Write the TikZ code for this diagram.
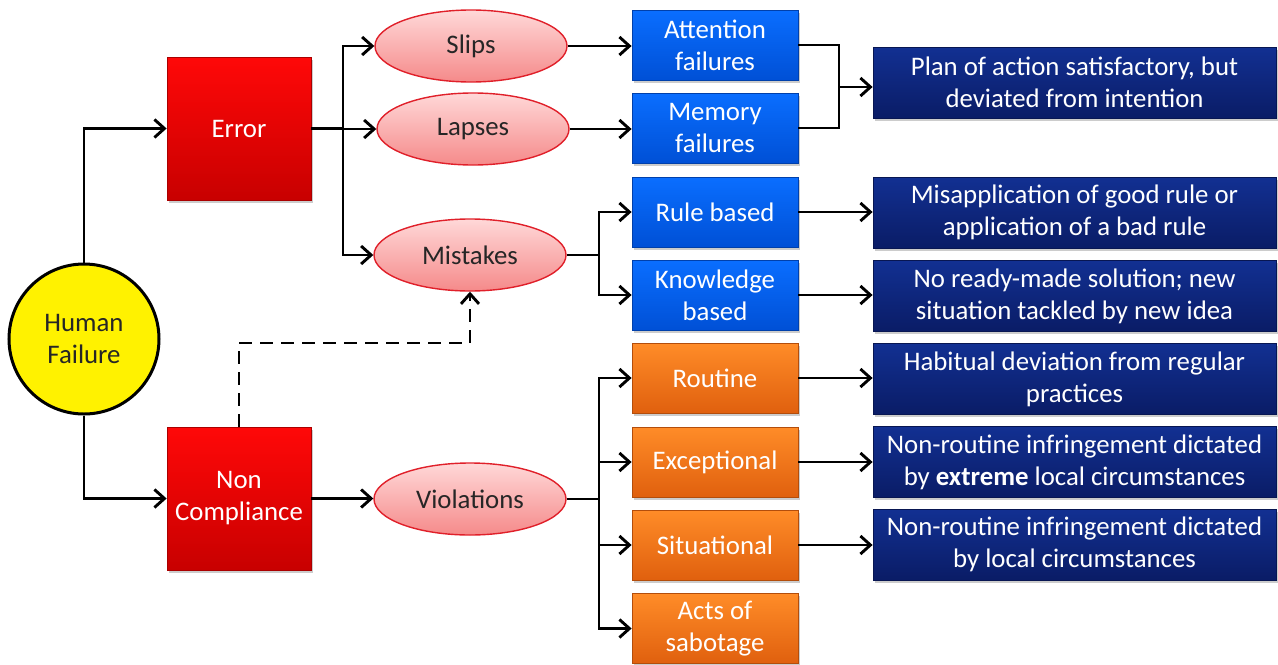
\documentclass[tikz,border=0pt]{standalone}
\usepackage{fontspec}
\setmainfont{Carlito}
\usetikzlibrary{arrows.meta,shapes.geometric,shadows}
\definecolor{redT}{HTML}{FF0808}
\definecolor{redB}{HTML}{C80000}
\definecolor{pinkT}{HTML}{FFD8D8}
\definecolor{pinkB}{HTML}{F58A8A}
\definecolor{pinkD}{HTML}{E0202A}
\definecolor{blueT}{HTML}{0A6EFF}
\definecolor{blueB}{HTML}{0050D6}
\definecolor{navyT}{HTML}{123092}
\definecolor{navyB}{HTML}{0A1C66}
\definecolor{orT}{HTML}{FF8C28}
\definecolor{orB}{HTML}{E0600E}
\begin{document}
\begin{tikzpicture}[x=0.5pt,y=0.5pt,
  every node/.style={font=\fontsize{13.4pt}{16pt}\selectfont},
  shad/.style={drop shadow={shadow xshift=1.2pt,shadow yshift=-1.4pt,opacity=0.4}},
  conn/.style={line width=1.45pt,black},
  arr/.style={conn,-{Straight Barb[length=5pt,width=9pt]}},
  redbox/.style={rectangle,minimum width=72pt,minimum height=71.5pt,inner sep=0pt,
    top color=redT,bottom color=redB,draw=redB!85!black,line width=0.4pt,text=white,align=center,shad},
  oval/.style={ellipse,minimum width=96pt,minimum height=36pt,inner sep=0pt,
    top color=pinkT,bottom color=pinkB,draw=pinkD,line width=0.7pt,text=black!85,align=center},
  bluebox/.style={rectangle,minimum width=83pt,minimum height=35pt,inner sep=0pt,
    top color=blueT,bottom color=blueB,draw=blueB!80!black,line width=0.4pt,text=white,align=center,shad},
  orbox/.style={rectangle,minimum width=83pt,minimum height=35pt,inner sep=0pt,
    top color=orT,bottom color=orB,draw=orB!80!black,line width=0.4pt,text=white,align=center,shad},
  navybox/.style={rectangle,minimum width=201.5pt,minimum height=35.5pt,inner sep=0pt,
    top color=navyT,bottom color=navyB,draw=navyB!80!black,line width=0.4pt,text=white,align=center,shad},
  hfcircle/.style={circle,minimum size=75pt,inner sep=0pt,fill=yellow,draw=black,line width=1.5pt,
    text=black!85,align=center}
]
\useasboundingbox (0,0) rectangle (1278,-664);

% main nodes
\node[hfcircle] (hf) at (84,-339) {Human\\Failure};
\node[redbox] (err) at (239,-128.5) {Error};
\node[redbox] (nc) at (239,-498.5) {Non\\Compliance};

\node[oval] (slips) at (471,-46) {Slips};
\node[oval] (lapses) at (473,-129) {Lapses};
\node[oval] (mist) at (470,-255) {Mistakes};
\node[oval] (viol) at (470,-499) {Violations};

\node[bluebox] (att) at (715,-45) {Attention\\failures};
\node[bluebox] (mem) at (715,-128) {Memory\\failures};
\node[bluebox] (rule) at (715,-212) {Rule based};
\node[bluebox] (know) at (715,-295) {Knowledge\\based};

\node[orbox] (rout) at (715,-378) {Routine};
\node[orbox] (exc) at (715,-462) {Exceptional};
\node[orbox] (sit) at (715,-545) {Situational};
\node[orbox] (acts) at (715,-628.5) {Acts of\\sabotage};

\node[navybox] (plan) at (1074.5,-82.5) {Plan of action satisfactory, but\\deviated from intention};
\node[navybox] (misap) at (1074.5,-212.5) {Misapplication of good rule or\\application of a bad rule};
\node[navybox] (nrm) at (1074.5,-296) {No ready-made solution; new\\situation tackled by new idea};
\node[navybox] (hab) at (1074.5,-379) {Habitual deviation from regular\\practices};
\node[navybox] (nrx) at (1074.5,-462) {Non-routine infringement dictated\\by \textbf{extreme} local circumstances};
\node[navybox] (nrl) at (1074.5,-544.5) {Non-routine infringement dictated\\by local circumstances};

% junction points
\coordinate (eb) at (343,-128.5);
\coordinate (mb) at (599,-255);
\coordinate (vb) at (599,-499);
\coordinate (jn) at (839,-87);
\coordinate (dk) at (239,-343);

% connectors
\draw[arr] (hf.north) |- (err.west);
\draw[arr] (hf.south) |- (nc.west);

\draw[conn] (err.east) -- (eb);
\draw[arr] (eb) |- (slips.west);
\draw[arr] (eb) |- (lapses.west);
\draw[arr] (eb) |- (mist.west);

\draw[arr] (nc.east) -- (nc.east -| viol.west);

\draw[arr] (slips.east) -- (slips.east -| att.west);
\draw[arr] (lapses.east) -- (lapses.east -| mem.west);

\draw[conn] (mist.east) -- (mb);
\draw[arr] (mb) |- (rule.west);
\draw[arr] (mb) |- (know.west);

\draw[conn] (viol.east) -- (vb);
\draw[arr] (vb) |- (rout.west);
\draw[arr] (vb) |- (exc.west);
\draw[arr] (vb) |- (sit.west);
\draw[arr] (vb) |- (acts.west);

\draw[conn] (att.east) -| (jn) |- (mem.east);
\draw[arr] (jn) -- (jn -| plan.west);

\draw[arr] (rule.east) -- (rule.east -| misap.west);
\draw[arr] (know.east) -- (know.east -| nrm.west);
\draw[arr] (rout.east) -- (rout.east -| hab.west);
\draw[arr] (exc.east) -- (exc.east -| nrx.west);
\draw[arr] (sit.east) -- (sit.east -| nrl.west);

\draw[arr,dash pattern=on 6.5pt off 4pt] (nc.north) -- (dk) -| (mist.south);
\end{tikzpicture}
\end{document}
